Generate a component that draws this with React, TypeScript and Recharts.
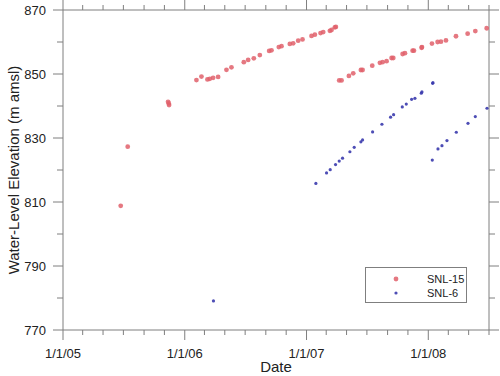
import React from 'react';
import { ScatterChart, Scatter, XAxis, YAxis, Label } from 'recharts';

// ---------- data ----------
const snl15Dates = [
  '2005-06-23', '2005-07-14', '2005-11-12', '2005-11-14', '2005-11-15',
  '2006-02-05', '2006-02-20', '2006-03-10', '2006-03-17', '2006-03-27', '2006-04-11',
  '2006-05-06', '2006-05-21', '2006-06-27', '2006-07-10', '2006-07-27', '2006-08-14',
  '2006-09-11', '2006-09-18', '2006-10-10', '2006-10-18', '2006-11-12', '2006-11-22',
  '2006-12-07', '2006-12-20', '2007-01-16', '2007-01-26', '2007-02-12', '2007-02-20',
  '2007-03-12', '2007-03-17', '2007-03-27', '2007-03-30',
  '2007-04-09', '2007-04-16', '2007-05-08', '2007-05-21', '2007-06-13', '2007-06-18',
  '2007-07-17', '2007-08-09', '2007-08-17', '2007-08-29', '2007-09-13', '2007-09-18',
  '2007-10-16', '2007-10-23', '2007-11-15', '2007-11-19', '2007-12-12', '2007-12-13',
  '2008-01-12', '2008-01-29', '2008-02-08', '2008-02-23', '2008-03-24', '2008-04-28',
  '2008-05-21', '2008-06-24',
];
const snl15Values = [
  808.8, 827.3, 841.3, 840.8, 840.3,
  848.1, 849.2, 848.3, 848.5, 848.8, 849.1,
  851.3, 852.1, 853.7, 854.4, 854.9, 855.9,
  857.2, 857.4, 858.4, 858.7, 859.4, 859.6,
  860.4, 860.8, 861.9, 862.3, 862.8, 863.1,
  863.5, 863.75, 864.6, 864.7,
  848.0, 848.0, 849.4, 850.2, 851.25, 851.25,
  852.6, 853.5, 853.7, 854.0, 855.0, 855.0,
  856.25, 856.5, 857.3, 857.3, 858.2, 858.4,
  859.5, 860.0, 860.1, 860.5, 861.8, 862.6,
  863.4, 864.3,
];

const snl6Dates = [
  '2006-03-28',
  '2007-01-29', '2007-03-02', '2007-03-13', '2007-03-29', '2007-04-09', '2007-04-19',
  '2007-05-11', '2007-05-24', '2007-06-13', '2007-06-18', '2007-07-18', '2007-08-15',
  '2007-09-10', '2007-09-19', '2007-10-15', '2007-10-27', '2007-11-12', '2007-11-22',
  '2007-12-11', '2007-12-13', '2008-01-14', '2008-01-15',
  '2008-01-13', '2008-01-30', '2008-02-11', '2008-02-26', '2008-03-25', '2008-04-29',
  '2008-05-21', '2008-06-25',
];
const snl6Values = [
  779.1,
  815.8, 819.1, 820.1, 821.7, 822.8, 823.7,
  825.7, 827.1, 828.8, 829.4, 831.9, 834.3,
  836.5, 837.3, 839.7, 840.6, 842.1, 842.4,
  844.0, 844.4, 847.1, 847.3,
  823.1, 826.6, 827.6, 829.2, 831.8, 834.6,
  836.7, 839.3,
];

const xTickDates = [
  '2005-01-01', '2005-03-01', '2005-05-01', '2005-07-01', '2005-09-01', '2005-11-01',
  '2006-01-01', '2006-03-01', '2006-05-01', '2006-07-01', '2006-09-01', '2006-11-01',
  '2007-01-01', '2007-03-01', '2007-05-01', '2007-07-01', '2007-09-01', '2007-11-01',
  '2008-01-01', '2008-03-01', '2008-05-01', '2008-07-01',
];
const yTicks = [770, 780, 790, 800, 810, 820, 830, 840, 850, 860, 870];
const yMajorStep = 20;
const seriesNames = ['SNL-15', 'SNL-6'];
const xTitle = 'Date';
const yTitle = 'Water-Level Elevation (m amsl)';

// ---------- helpers ----------
const snl15Data = snl15Dates.map((d, i) => ({ t: Date.parse(d), v: snl15Values[i] }));
const snl6Data = snl6Dates.map((d, i) => ({ t: Date.parse(d), v: snl6Values[i] }));
const xTicks = xTickDates.map((d) => Date.parse(d));
const xDomain = [xTicks[0], xTicks[xTicks.length - 1]];

const AXIS = '#7f7f7f';
const FONT = '"Liberation Sans", Arial, sans-serif';
const RED = '#e0606b';
const BLUE = '#3a3aad';
const RED_R = 2.4;
const BLUE_R = 1.6;

const isMajorX = (t: number) => new Date(t).getUTCMonth() === 0;
const fmtX = (t: number) => {
  const d = new Date(t);
  return `${d.getUTCMonth() + 1}/${d.getUTCDate()}/${String(d.getUTCFullYear()).slice(2)}`;
};
const isMajorY = (v: number) => (v - yTicks[0]) % yMajorStep === 0;

const BottomTick = (props: any) => {
  const { x, y, payload } = props;
  const major = isMajorX(payload.value);
  return (
    <g>
      <line x1={x} y1={y} x2={x} y2={y + (major ? 10 : 5)} stroke={AXIS} strokeWidth={1} />
      {major && (
        <text x={x} y={y + 28} textAnchor="middle" fontSize={13} fontFamily={FONT} fill="#222">
          {fmtX(payload.value)}
        </text>
      )}
    </g>
  );
};
const TopTick = (props: any) => {
  const { x, y, payload } = props;
  const major = isMajorX(payload.value);
  return <line x1={x} y1={y} x2={x} y2={y - (major ? 10 : 5)} stroke={AXIS} strokeWidth={1} />;
};
const LeftTick = (props: any) => {
  const { x, y, payload } = props;
  const major = isMajorY(payload.value);
  return (
    <g>
      <line x1={x} y1={y} x2={x - (major ? 10 : 6)} y2={y} stroke={AXIS} strokeWidth={1} />
      {major && (
        <text x={x - 17} y={y + 4.5} textAnchor="end" fontSize={13} fontFamily={FONT} fill="#222">
          {payload.value}
        </text>
      )}
    </g>
  );
};
const RightTick = (props: any) => {
  const { x, y, payload } = props;
  const major = isMajorY(payload.value);
  return <line x1={x} y1={y} x2={x + (major ? 10 : 6)} y2={y} stroke={AXIS} strokeWidth={1} />;
};

const RedDot = (p: any) => (
  <circle cx={p.cx} cy={p.cy} r={RED_R} fill={RED} fillOpacity={0.85} />
);
const BlueDot = (p: any) => (
  <circle cx={p.cx} cy={p.cy} r={BLUE_R} fill={BLUE} fillOpacity={0.9} />
);

const LegendBox = () => (
  <div
    style={{
      position: 'absolute',
      left: 365,
      top: 267,
      width: 102,
      height: 36,
      boxSizing: 'border-box',
      border: `1px solid ${AXIS}`,
      background: '#fff',
      fontFamily: FONT,
      fontSize: 11,
      color: '#222',
    }}
  >
    {seriesNames.map((name, i) => (
      <div key={name} style={{ position: 'absolute', left: 0, top: 4 + i * 14, height: 14, width: 100 }}>
        <svg width={12} height={14} style={{ position: 'absolute', left: 24, top: 0 }}>
          {i === 0 ? (
            <circle cx={6} cy={7} r={RED_R} fill={RED} fillOpacity={0.85} />
          ) : (
            <circle cx={6} cy={7} r={BLUE_R} fill={BLUE} fillOpacity={0.9} />
          )}
        </svg>
        <span style={{ position: 'absolute', left: 61, top: 0, lineHeight: '14px' }}>{name}</span>
      </div>
    ))}
  </div>
);

export default function App() {
  return (
    <div style={{ position: 'absolute', left: 0, top: 0, width: 500, height: 376, background: '#fff' }}>
      <ScatterChart width={500} height={376} margin={{ top: 9, right: 10, bottom: 0, left: 0 }}>
        <XAxis
          dataKey="t"
          type="number"
          domain={xDomain}
          ticks={xTicks}
          allowDataOverflow
          height={46}
          tickSize={0}
          tickMargin={0}
          tickLine={false}
          axisLine={{ stroke: AXIS }}
          tick={<BottomTick />}
          interval={0}
        >
          <Label
            content={(props: any) => {
              const vb = props.viewBox;
              return (
                <text x={vb.x + vb.width / 2} y={vb.y + 42} textAnchor="middle" fontSize={15} fontFamily={FONT} fill="#222">
                  {xTitle}
                </text>
              );
            }}
          />
        </XAxis>
        <XAxis
          xAxisId="top"
          orientation="top"
          dataKey="t"
          type="number"
          domain={xDomain}
          ticks={xTicks}
          allowDataOverflow
          height={1}
          tickSize={0}
          tickMargin={0}
          tickLine={false}
          axisLine={{ stroke: AXIS }}
          tick={<TopTick />}
          interval={0}
        />
        <YAxis
          dataKey="v"
          type="number"
          domain={[770, 870]}
          ticks={yTicks}
          allowDataOverflow
          width={63}
          tickSize={0}
          tickMargin={0}
          tickLine={false}
          axisLine={{ stroke: AXIS }}
          tick={<LeftTick />}
          interval={0}
        >
          <Label
            content={(props: any) => {
              const vb = props.viewBox;
              const cx = vb.x + 13;
              const cy = vb.y + vb.height / 2;
              return (
                <text
                  x={cx}
                  y={cy}
                  transform={`rotate(-90 ${cx} ${cy})`}
                  textAnchor="middle"
                  dominantBaseline="central"
                  fontSize={15}
                  fontFamily={FONT}
                  fill="#222"
                >
                  {yTitle}
                </text>
              );
            }}
          />
        </YAxis>
        <YAxis
          yAxisId="right"
          orientation="right"
          dataKey="v"
          type="number"
          domain={[770, 870]}
          ticks={yTicks}
          allowDataOverflow
          width={1}
          tickSize={0}
          tickMargin={0}
          tickLine={false}
          axisLine={{ stroke: AXIS }}
          tick={<RightTick />}
          interval={0}
        />
        <Scatter name={seriesNames[0]} data={snl15Data} shape={<RedDot />} isAnimationActive={false} />
        <Scatter name={seriesNames[1]} data={snl6Data} shape={<BlueDot />} isAnimationActive={false} />
      </ScatterChart>
      <LegendBox />
    </div>
  );
}
